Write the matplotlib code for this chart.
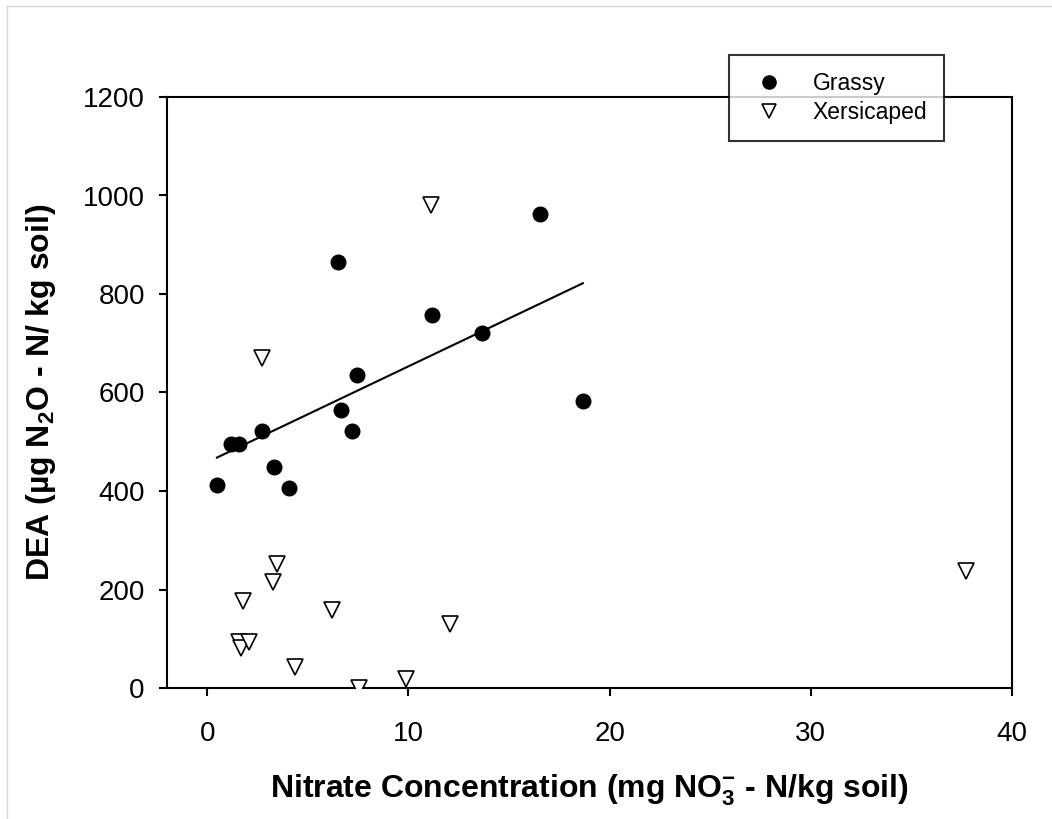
import numpy as np
import matplotlib
matplotlib.use("Agg")
import matplotlib.pyplot as plt
from matplotlib.lines import Line2D

plt.rcParams['font.family'] = ['Liberation Sans', 'DejaVu Sans']
plt.rcParams['mathtext.fontset'] = 'custom'
plt.rcParams['mathtext.rm'] = 'Liberation Sans'
plt.rcParams['mathtext.bf'] = 'Liberation Sans:bold'
plt.rcParams['mathtext.default'] = 'bf'

# nitrate (mg NO3- - N/kg soil) vs DEA (ug N2O - N/kg soil)
grassy_x = [6.52, 11.18, 7.43, 6.65, 7.20, 2.72, 1.18, 1.59, 3.33, 0.48, 4.08, 13.65, 16.52, 18.67]
grassy_y = [864, 757, 635, 564, 522, 522, 495, 495, 449, 412, 407, 721, 962, 583]

xeri_x = [11.14, 2.72, 3.45, 3.25, 1.76, 6.18, 12.09, 1.59, 1.66, 2.09, 4.34, 7.56, 9.89, 37.70]
xeri_y = [981, 671, 252, 215, 177, 158, 129, 93, 81, 94, 42, 0, 18, 238]

x_ticks = [0, 10, 20, 30, 40]
y_ticks = [0, 200, 400, 600, 800, 1000, 1200]

fig = plt.figure(figsize=(10.52, 8.19), dpi=100)
ax = fig.add_axes([167 / 1052, 1 - 688 / 819, (1012 - 167) / 1052, (688 - 97) / 819])

ax.plot(grassy_x, grassy_y, 'o', color='black', markersize=10.5, linestyle='none', zorder=3)
ax.plot(xeri_x, xeri_y, 'v', markerfacecolor='white', markeredgecolor='black',
        markeredgewidth=1.2, markersize=11, linestyle='none', zorder=3)

# linear fit for the grassy sites
slope, intercept = np.polyfit(grassy_x, grassy_y, 1)
fx = np.array([min(grassy_x), max(grassy_x)])
ax.plot(fx, slope * fx + intercept, color='black', linewidth=1.5, zorder=2)

ax.set_xlim(-2, 40)
ax.set_ylim(0, 1200)
ax.set_xticks(x_ticks)
ax.set_yticks(y_ticks)
for s in ax.spines.values():
    s.set_linewidth(1.5)
ax.tick_params(direction='out', length=6, width=1.5, top=False, right=False)
ax.tick_params(axis='y', labelsize=20, pad=10)
ax.tick_params(axis='x', labelsize=20, pad=18)

ax.set_xlabel(r'Nitrate Concentration (mg NO$_3^{-}$ - N/kg soil)', fontsize=23,
              fontweight='bold', labelpad=18)
ax.set_ylabel(r'DEA (µg N$_2$O - N/ kg soil)', fontsize=23, fontweight='bold', labelpad=18)

handles = [
    Line2D([], [], marker='o', color='black', linestyle='none', markersize=9.5),
    Line2D([], [], marker='v', markerfacecolor='white', markeredgecolor='black',
           markeredgewidth=1.2, linestyle='none', markersize=10.5),
]
leg = ax.legend(handles, ['Grassy', 'Xersicaped'], loc='upper left',
                bbox_to_anchor=((729 - 167) / 845, 1 + (97 - 55) / 591),
                fontsize=16.5, frameon=True, fancybox=False, borderpad=0.75,
                handletextpad=0.9, labelspacing=0.25, handlelength=2.0, borderaxespad=0)
leg.get_frame().set_edgecolor('black')
leg.get_frame().set_linewidth(1.5)
leg.set_zorder(5)

# thin grey frame on the left and top of the figure
fig.add_artist(Line2D([7 / 1052, 7 / 1052], [0, 1 - 6 / 819], color='#d8d8d8', linewidth=1))
fig.add_artist(Line2D([7 / 1052, 1], [1 - 6 / 819, 1 - 6 / 819], color='#d8d8d8', linewidth=1))

fig.savefig('out.png', dpi=100)
